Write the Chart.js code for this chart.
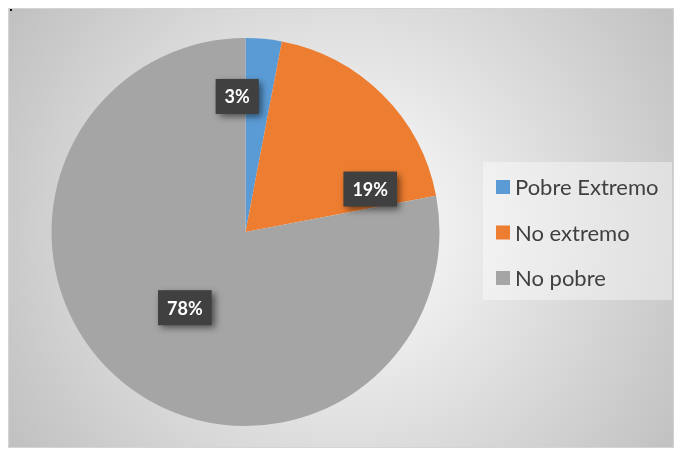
<!DOCTYPE html>
<html>
<head>
<meta charset="utf-8">
<script src="https://cdn.jsdelivr.net/npm/chart.js@4.4.0/dist/chart.umd.min.js"></script>
<style>
  html, body { margin: 0; padding: 0; background: #ffffff; }
  canvas { display: block; }
</style>
</head>
<body>
<canvas id="povertyChart" width="675" height="452"></canvas>
<script>
const categories = ['Pobre Extremo', 'No extremo', 'No pobre'];
const shares = [3, 19, 78];
const sliceColors = ['#5B9BD5', '#ED7D31', '#A5A5A5'];

const canvas = document.getElementById('povertyChart');
const ctx = canvas.getContext('2d');

// frame + radial gradient behind the pie
const backgroundPlugin = {
  id: 'frameBackground',
  beforeDraw(chart) {
    const c = chart.ctx;
    c.save();
    c.fillStyle = '#ffffff';
    c.fillRect(0, 0, chart.width, chart.height);
    const g = c.createRadialGradient(345, 228, 0, 345, 228, 420);
    g.addColorStop(0, '#ffffff');
    g.addColorStop(1, '#bdbdbd');
    c.fillStyle = g;
    c.fillRect(8, 8, 665, 439);
    c.strokeStyle = '#d4d4d4';
    c.lineWidth = 1;
    c.strokeRect(8.5, 8.5, 665, 439);
    c.fillStyle = '#111111';
    c.fillRect(10, 9, 2, 2);
    c.restore();
  }
};

// dark value boxes, placed roughly where Excel's best fit puts them
const labelSpots = [
  { angle: -3.5, dist: 0.70 },
  { angle: 71, dist: 0.68 },
  { angle: 218.7, dist: 0.50 }
];

const valueLabelPlugin = {
  id: 'valueLabels',
  afterDatasetsDraw(chart) {
    const c = chart.ctx;
    const arcs = chart.getDatasetMeta(0).data;
    c.save();
    c.font = 'bold 18px Lato';
    c.textAlign = 'center';
    c.textBaseline = 'middle';
    arcs.forEach((arc, i) => {
      const spot = labelSpots[i];
      const a = spot.angle * Math.PI / 180;
      const x = arc.x + Math.sin(a) * arc.outerRadius * spot.dist;
      const y = arc.y - Math.cos(a) * arc.outerRadius * spot.dist;
      const text = chart.data.datasets[0].data[i] + '%';
      const w = c.measureText(text).width + 18;
      const h = 35;
      c.shadowColor = 'rgba(0,0,0,0.55)';
      c.shadowBlur = 7;
      c.shadowOffsetX = 3;
      c.shadowOffsetY = 3;
      c.fillStyle = '#404040';
      c.fillRect(x - w / 2, y - h / 2, w, h);
      c.shadowColor = 'transparent';
      c.fillStyle = '#ffffff';
      c.fillText(text, x, y + 1);
    });
    c.restore();
  }
};

// legend panel on the right
const legendPlugin = {
  id: 'sideLegend',
  afterDraw(chart) {
    const c = chart.ctx;
    const labels = chart.data.labels;
    const colors = chart.data.datasets[0].backgroundColor;
    c.save();
    c.fillStyle = 'rgba(255,255,255,0.4)';
    c.fillRect(483, 162, 189, 138);
    c.font = '22px Lato';
    c.textBaseline = 'middle';
    labels.forEach((lab, i) => {
      const y = 187 + i * 45.5;
      c.fillStyle = colors[i];
      c.fillRect(496, y - 7, 14, 14);
      c.fillStyle = '#404040';
      c.fillText(lab, 515, y + 1);
    });
    c.restore();
  }
};

const povertyChart = new Chart(ctx, {
  type: 'pie',
  data: {
    labels: categories,
    datasets: [{
      data: shares,
      backgroundColor: sliceColors,
      borderWidth: 0
    }]
  },
  options: {
    responsive: false,
    animation: false,
    layout: {
      padding: { left: 51, top: 38, right: 235, bottom: 26 }
    },
    plugins: {
      legend: { display: false },
      tooltip: { enabled: false }
    }
  },
  plugins: [backgroundPlugin, valueLabelPlugin, legendPlugin]
});
</script>
</body>
</html>
